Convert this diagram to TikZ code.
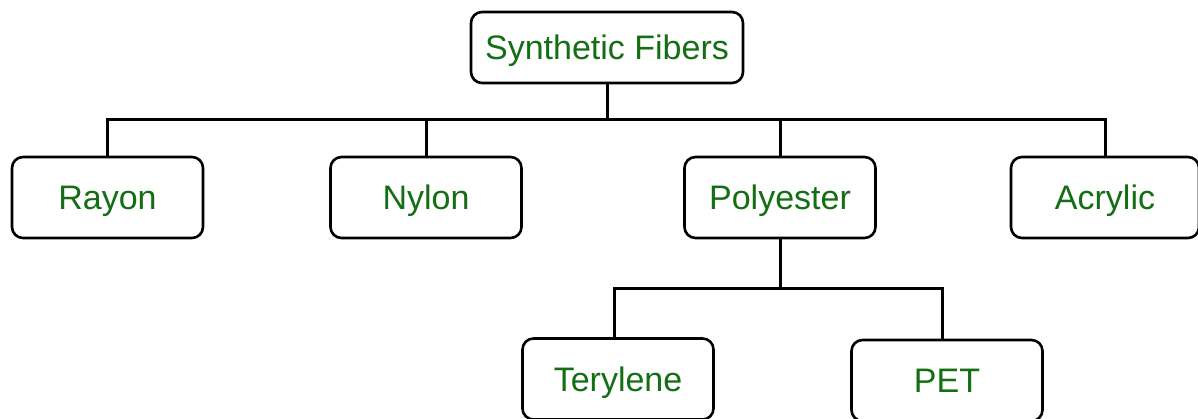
\documentclass[tikz,border=0pt]{standalone}
\usepackage{fontspec}
\setmainfont{Liberation Sans}
\definecolor{txtgreen}{RGB}{20,110,20}
\begin{document}
\begin{tikzpicture}[x=1pt,y=-1pt,
  box/.style={draw=black,line width=2.6pt,rounded corners=11pt,fill=white,
    minimum width=191pt,minimum height=81pt,inner sep=0pt,
    text height=24.3pt,text depth=0pt,
    text=txtgreen,font=\fontsize{34}{40}\selectfont},
  conn/.style={draw=black,line width=3pt}]
\useasboundingbox (0,0) rectangle (1198,419);
\node[box,minimum width=272pt,minimum height=71pt] (top) at (607,47.5) {Synthetic Fibers};
\node[box] (rayon) at (107.5,197.5) {Rayon};
\node[box] (nylon) at (426,197.5) {Nylon};
\node[box] (poly) at (780,197.5) {Polyester};
\node[box,minimum width=188pt] (acr) at (1105,197.5) {Acrylic};
\node[box] (tery) at (618,379) {Terylene};
\node[box] (pet) at (947,380.5) {PET};
\coordinate (j1) at (607,120);
\coordinate (j2) at (780,289);
\draw[conn] (top.south) -- (j1);
\draw[conn] (rayon.north) |- (j1) -| (acr.north);
\draw[conn] (nylon.north) -- (nylon.north |- j1);
\draw[conn] (poly.north) -- (poly.north |- j1);
\draw[conn] (poly.south) -- (j2);
\draw[conn] ([xshift=-4pt]tery.north) |- (j2) -| ([xshift=-5pt]pet.north);
\end{tikzpicture}
\end{document}
